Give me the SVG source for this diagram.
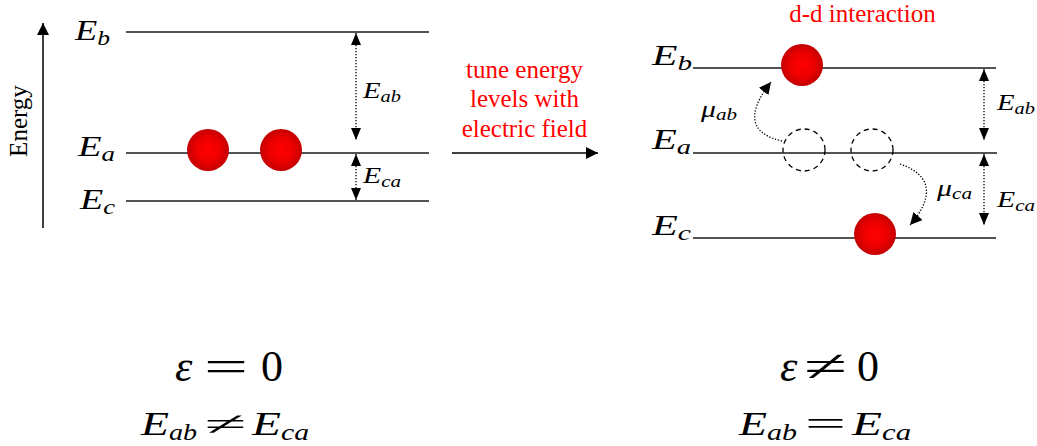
<svg xmlns="http://www.w3.org/2000/svg" width="1037" height="446" viewBox="0 0 1037 446">
<style>
.lvl{stroke:#1a1a1a;stroke-width:1.6;fill:none}
.ax{stroke:#000;stroke-width:1.5;fill:none}
.dot{stroke:#000;stroke-width:1.3;stroke-dasharray:1.3 1.7;fill:none}
.dash{stroke:#000;stroke-width:1.3;stroke-dasharray:5 4;fill:#fff;fill-opacity:0}
.ball{fill:url(#ball)}
.mi{font-style:italic;fill:#000}
.up{font-style:normal}
.red{fill:#ff0000;text-anchor:middle}
</style>
<defs>
<radialGradient id="ball" cx="0.5" cy="0.5" r="0.5">
<stop offset="0" stop-color="#ff0000"/>
<stop offset="0.55" stop-color="#ee0000"/>
<stop offset="1" stop-color="#c40000"/>
</radialGradient>
<marker id="ah" viewBox="0 0 12 10" refX="12" refY="5" markerWidth="12" markerHeight="10" orient="auto-start-reverse" markerUnits="userSpaceOnUse">
<path d="M0,0 L12,5 L0,10 z" fill="#000"/>
</marker>
<marker id="ahb" viewBox="0 0 12 12" refX="12" refY="6" markerWidth="12" markerHeight="12" orient="auto" markerUnits="userSpaceOnUse">
<path d="M0,0 L12,6 L0,12 z" fill="#000"/>
</marker>
</defs>

<g font-family="Liberation Serif, serif">
<g id="energy-axis">
<line class="ax" x1="43" y1="228" x2="43" y2="23" marker-end="url(#ahb)"/>
<text font-size="25" text-anchor="middle" transform="translate(27,121) rotate(-90)">Energy</text>
</g>

<g id="left-levels">
<line class="lvl" x1="126" y1="32" x2="429" y2="32"/>
<line class="lvl" x1="126" y1="153" x2="429" y2="153"/>
<line class="lvl" x1="126" y1="201" x2="429" y2="201"/>
<text class="mi" font-size="30" x="75" y="40" textLength="35" lengthAdjust="spacingAndGlyphs">E<tspan font-size="21" dy="5">b</tspan></text>
<text class="mi" font-size="30" x="78" y="156" textLength="37" lengthAdjust="spacingAndGlyphs">E<tspan font-size="21" dy="5">a</tspan></text>
<text class="mi" font-size="30" x="80" y="209" textLength="35" lengthAdjust="spacingAndGlyphs">E<tspan font-size="21" dy="5">c</tspan></text>
</g>

<g id="left-balls">
<circle class="ball" cx="208" cy="150" r="21"/>
<circle class="ball" cx="281" cy="150" r="21"/>
</g>

<g id="middle-label">
<text class="red" font-size="25" x="524.5" y="78">tune energy</text>
<text class="red" font-size="25" x="524.5" y="107">levels with</text>
<text class="red" font-size="25" x="524.5" y="137">electric field</text>
</g>

<g id="right-levels">
<line class="lvl" x1="693" y1="68" x2="996" y2="68"/>
<line class="lvl" x1="693" y1="153" x2="997" y2="153"/>
<line class="lvl" x1="693" y1="238" x2="996" y2="238"/>
<text class="mi" font-size="30" x="652" y="65" textLength="40" lengthAdjust="spacingAndGlyphs">E<tspan font-size="21" dy="5">b</tspan></text>
<text class="mi" font-size="30" x="652" y="149" textLength="39" lengthAdjust="spacingAndGlyphs">E<tspan font-size="21" dy="5">a</tspan></text>
<text class="mi" font-size="30" x="652" y="235" textLength="39" lengthAdjust="spacingAndGlyphs">E<tspan font-size="21" dy="5">c</tspan></text>
</g>

<g id="right-balls">
<circle class="ball" cx="802" cy="65" r="21"/>
<circle class="ball" cx="875" cy="234" r="21"/>
<circle class="dash" cx="804" cy="150" r="21"/>
<circle class="dash" cx="872" cy="150" r="21"/>
</g>

<g id="dd-label">
<text class="red" font-size="25" x="862.5" y="22">d-d interaction</text>
</g>

<g id="connectors">
<line class="dot" x1="356" y1="33" x2="356" y2="140" marker-start="url(#ah)" marker-end="url(#ah)"/>
<line class="dot" x1="356" y1="154" x2="356" y2="200" marker-start="url(#ah)" marker-end="url(#ah)"/>
<line class="dot" x1="984" y1="69" x2="984" y2="140" marker-start="url(#ah)" marker-end="url(#ah)"/>
<line class="dot" x1="984" y1="154" x2="984" y2="225" marker-start="url(#ah)" marker-end="url(#ah)"/>
<line class="ax" x1="452" y1="153" x2="598" y2="153" marker-end="url(#ahb)"/>
<path class="dot" d="M782,141 C738,131 757,100 771,82" marker-end="url(#ahb)"/>
<path class="dot" d="M900,164 C935,176 932,200 910,225" marker-end="url(#ahb)"/>
</g>

<g id="gap-labels">
<text class="mi" font-size="24" x="363" y="98" textLength="38" lengthAdjust="spacingAndGlyphs">E<tspan font-size="17" dy="4">ab</tspan></text>
<text class="mi" font-size="24" x="363" y="183" textLength="38" lengthAdjust="spacingAndGlyphs">E<tspan font-size="17" dy="4">ca</tspan></text>
<text class="mi" font-size="24" x="997" y="110" textLength="38" lengthAdjust="spacingAndGlyphs">E<tspan font-size="17" dy="4">ab</tspan></text>
<text class="mi" font-size="24" x="997" y="207" textLength="38" lengthAdjust="spacingAndGlyphs">E<tspan font-size="17" dy="4">ca</tspan></text>
<text class="mi" font-size="24" x="701" y="117" textLength="36" lengthAdjust="spacingAndGlyphs">μ<tspan font-size="17" dy="3">ab</tspan></text>
<text class="mi" font-size="24" x="937" y="196" textLength="35" lengthAdjust="spacingAndGlyphs">μ<tspan font-size="17" dy="3">ca</tspan></text>
</g>

<g id="left-equations">
<text class="mi" font-size="44" y="381"><tspan x="175">ε</tspan><tspan class="up" x="204" textLength="44" lengthAdjust="spacingAndGlyphs">=</tspan><tspan class="up" x="261">0</tspan></text>
<text class="mi" font-size="33" y="435"><tspan x="141" textLength="28" lengthAdjust="spacingAndGlyphs">E</tspan><tspan font-size="23" dy="5" textLength="28" lengthAdjust="spacingAndGlyphs">ab</tspan><tspan class="up" x="204" dy="-5" textLength="42" lengthAdjust="spacingAndGlyphs">≠</tspan><tspan x="252" textLength="29" lengthAdjust="spacingAndGlyphs">E</tspan><tspan font-size="23" dy="5" textLength="28" lengthAdjust="spacingAndGlyphs">ca</tspan></text>
</g>

<g id="right-equations">
<text class="mi" font-size="44" y="381"><tspan x="780">ε</tspan><tspan class="up" x="804" textLength="43" lengthAdjust="spacingAndGlyphs">≠</tspan><tspan class="up" x="857">0</tspan></text>
<text class="mi" font-size="33" y="435"><tspan x="739" textLength="28" lengthAdjust="spacingAndGlyphs">E</tspan><tspan font-size="23" dy="5" textLength="30" lengthAdjust="spacingAndGlyphs">ab</tspan><tspan class="up" x="805" dy="-5" textLength="41" lengthAdjust="spacingAndGlyphs">=</tspan><tspan x="852" textLength="30" lengthAdjust="spacingAndGlyphs">E</tspan><tspan font-size="23" dy="5" textLength="29" lengthAdjust="spacingAndGlyphs">ca</tspan></text>
</g>
</g>
</svg>
